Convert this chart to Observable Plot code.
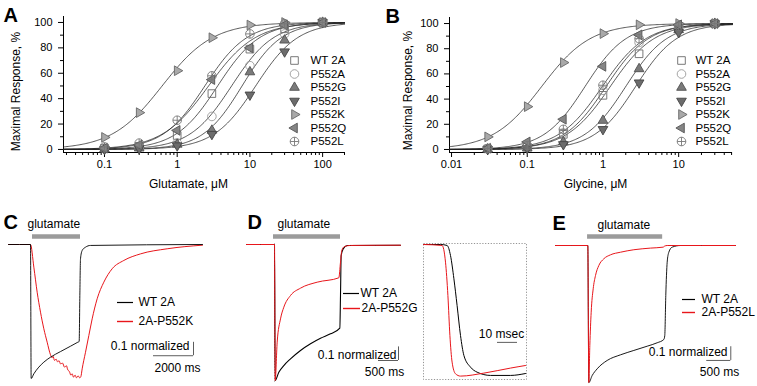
<!DOCTYPE html>
<html><head><meta charset="utf-8">
<script src="https://cdn.jsdelivr.net/npm/d3@7"></script>
<script src="https://cdn.jsdelivr.net/npm/@observablehq/plot@0.6"></script>
<style>
html,body{margin:0;padding:0;background:#fff;}
#fig{position:relative;width:757px;height:386px;overflow:hidden;background:#fff;}
</style></head><body><div id="fig"></div>
<script>
// ---------------- DATA ----------------
const series = ["WT 2A", "P552A", "P552G", "P552I", "P552K", "P552Q", "P552L"];

// Panel A: glutamate concentration-response (% of maximal)
const gluConc = [0.1, 0.3, 1, 3, 10, 30, 100];
const glu_WT   = [1, 2.5, 11, 44, 79, 95, 100];
const glu_A    = [0.5, 1.5, 5, 26, 66, 91, 100];
const glu_G    = [0.3, 1, 4, 15, 61, 86, 100];
const glu_I    = [0.2, 0.8, 3, 12, 43, 77, 100];
const glu_K    = [9.5, 29, 62, 88, 98, 100, 100];
const glu_Q    = [1, 3.5, 15, 55, 80, 98, 100];
const glu_L    = [2, 5, 23, 58, 91, 99, 100];
const gluEC50  = [3.6, 5.6, 7.8, 12, 0.62, 2.7, 2.4];
const gluNH    = [1.5, 1.5, 1.6, 1.5, 1.25, 1.35, 1.5];

// Panel B: glycine concentration-response (% of maximal)
const glyConc = [0.03, 0.1, 0.3, 1, 3, 10, 30];
const gly_WT   = [0.5, 2, 12, 43, 76, 96, 100];
const gly_A    = [0.5, 2.5, 13, 47, 85, 98, 100];
const gly_G    = [0.3, 1, 6, 23, 64, 95, 100];
const gly_I    = [0.2, 1, 4, 16, 53, 93, 100];
const gly_K    = [10, 34, 69, 92, 99, 100, 100];
const gly_Q    = [1, 6, 24, 66, 91, 99, 100];
const gly_L    = [0.8, 3, 16, 51, 88, 98, 100];
const glyEC50  = [1.25, 1.1, 2.0, 2.7, 0.155, 0.58, 0.98];
const glyNH    = [1.5, 1.55, 1.6, 1.6, 1.35, 1.6, 1.5];

const yMajor = [0, 20, 40, 60, 80, 100];
const yMinor = [10, 30, 50, 70, 90];
const gluTicks = [0.1, 1, 10, 100];
const gluMinor = [0.03,0.04,0.05,0.06,0.07,0.08,0.09,0.2,0.3,0.4,0.5,0.6,0.7,0.8,0.9,2,3,4,5,6,7,8,9,20,30,40,50,60,70,80,90,200];
const glyTicks = [0.01, 0.1, 1, 10];
const glyMinor = [0.02,0.03,0.04,0.05,0.06,0.07,0.08,0.09,0.2,0.3,0.4,0.5,0.6,0.7,0.8,0.9,2,3,4,5,6,7,8,9,20,30,40,50];

// Panel C traces: [time ms, normalized current]
const traceC_WT = [[0,0],[1100,0],[1133,-1],[1267,-0.965],[1517,-0.915],[1767,-0.878],[2100,-0.841],[2600,-0.799],[3100,-0.759],[3467,-0.729],[3533,-0.724],[3567,-0.381],[3600,-0.107],[3683,-0.045],[3850,-0.020],[4100,-0.007],[9700,0]];
const traceC_P552K = [[0,0],[1100,0],[1267,-0.169],[1433,-0.356],[1600,-0.505],[1767,-0.629],[1933,-0.729],[2100,-0.823],[2180,-0.845],[2230,-0.835],[2300,-0.865],[2380,-0.855],[2450,-0.875],[2530,-0.868],[2600,-0.891],[2700,-0.885],[2800,-0.915],[2900,-0.905],[2950,-0.93],[3050,-0.95],[3120,-0.975],[3183,-0.965],[3250,-0.99],[3330,-0.975],[3400,-0.995],[3480,-0.98],[3560,-0.995],[3620,-0.985],[3683,-0.928],[3850,-0.804],[4017,-0.679],[4183,-0.555],[4433,-0.405],[4767,-0.281],[5183,-0.181],[5767,-0.119],[6600,-0.070],[7933,-0.032],[9700,-0.005]];
const appC = [[1200, 3600]];

// Panel D traces
const traceD_WT = [[0,0],[700,0],[717,-1],[808,-0.939],[933,-0.890],[1100,-0.841],[1350,-0.779],[1600,-0.730],[1850,-0.689],[2100,-0.657],[2333,-0.615],[2350,-0.375],[2367,-0.081],[2417,-0.032],[2517,-0.007],[3850,-0.005]];
const traceD_P552G = [[0,0],[700,0],[717,-1],[767,-0.718],[850,-0.547],[933,-0.461],[1100,-0.375],[1350,-0.321],[1767,-0.277],[2308,-0.245],[2350,-0.13],[2383,-0.044],[2450,-0.015],[2600,-0.007],[3850,-0.005]];
const appD = [[675, 2350]];
// Panel D inset (onset, ms)
const insetD_WT = [[0,0],[8.5,0],[11.8,-0.007],[13.5,-0.081],[15.2,-0.252],[16.8,-0.449],[18.5,-0.669],[20.2,-0.816],[23.5,-0.902],[26.8,-0.939],[33.5,-0.963],[43.5,-0.963],[51,-0.949]];
const insetD_P552G = [[0,0],[9.3,-0.007],[11,-0.13],[12.2,-0.375],[13.2,-0.669],[14.3,-0.865],[16,-0.951],[18.5,-0.968],[30.2,-0.946],[43.5,-0.909],[51,-0.89]];

// Panel E traces
const traceE_WT = [[0,0],[672,0],[693,-1.0],[763,-0.949],[867,-0.900],[1075,-0.839],[1352,-0.798],[1629,-0.766],[1907,-0.735],[2115,-0.710],[2253,-0.686],[2273,-0.657],[2294,-0.365],[2323,-0.122],[2357,-0.049],[2427,-0.012],[2600,0],[3744,0]];
const traceE_P552L = [[0,0],[672,0],[693,-1.0],[714,-0.730],[742,-0.487],[784,-0.316],[832,-0.219],[901,-0.146],[1005,-0.097],[1144,-0.068],[1352,-0.049],[1629,-0.031],[1976,-0.019],[2240,-0.012],[2267,-0.005],[2323,0],[3744,0]];
const appE = [[667, 2229]];

// ---------------- STYLE / HELPERS ----------------
const FONT = "Arial, 'Liberation Sans', Helvetica, sans-serif";
const RED = "#e8161b";
const fig = document.getElementById("fig");
function put(svg, left, top) {
  svg.style.position = "absolute"; svg.style.left = left + "px"; svg.style.top = top + "px";
  fig.appendChild(svg);
}
const baseStyle = `background: transparent; overflow: visible; font-family: ${FONT}; font-size: 11px; color: black;`;

const R = s => Math.sqrt(s / Math.PI);
const triUp = {draw(c, s) { const r = R(s) * 1.3; c.moveTo(0, -r); c.lineTo(r * 0.866, r * 0.5); c.lineTo(-r * 0.866, r * 0.5); c.closePath(); }};
const triDown = {draw(c, s) { const r = R(s) * 1.3; c.moveTo(0, r); c.lineTo(r * 0.866, -r * 0.5); c.lineTo(-r * 0.866, -r * 0.5); c.closePath(); }};
const triRight = {draw(c, s) { const r = R(s) * 1.3; c.moveTo(r, 0); c.lineTo(-r * 0.5, -r * 0.866); c.lineTo(-r * 0.5, r * 0.866); c.closePath(); }};
const triLeft = {draw(c, s) { const r = R(s) * 1.3; c.moveTo(-r, 0); c.lineTo(r * 0.5, -r * 0.866); c.lineTo(r * 0.5, r * 0.866); c.closePath(); }};
const crossCircle = {draw(c, s) { const r = R(s); c.moveTo(r, 0); c.arc(0, 0, r, 0, 2 * Math.PI); c.moveTo(-r, 0); c.lineTo(r, 0); c.moveTo(0, -r); c.lineTo(0, r); }};
const sty = {
  "WT 2A": {symbol: "square", fill: "none", stroke: "#6a6a6a"},
  "P552A": {symbol: "circle", fill: "none", stroke: "#9a9a9a"},
  "P552G": {symbol: triUp, fill: "#7a7a7a", stroke: "#505050"},
  "P552I": {symbol: triDown, fill: "#6c6c6c", stroke: "#444"},
  "P552K": {symbol: triRight, fill: "#a9a9a9", stroke: "#666"},
  "P552Q": {symbol: triLeft, fill: "#858585", stroke: "#555"},
  "P552L": {symbol: crossCircle, fill: "none", stroke: "#777"}
};
const DOT_R = 4.3;

function dosePlot(o) {
  const pts = [];
  series.forEach((s, i) => o.conc.forEach((c, j) => pts.push({s, c, r: o.resp[i][j]})));
  const lo = Math.log10(o.xdom[0]), hi = Math.log10(o.xdom[1]);
  const grid = d3.range(0, 241).map(k => 10 ** (lo + (hi - lo) * k / 240));
  const fits = [];
  series.forEach((s, i) => grid.forEach(c => fits.push({s, c, r: 100 / (1 + (o.ec50[i] / c) ** o.nh[i])})));
  return Plot.plot({
    width: o.w, height: o.h, marginLeft: o.ml, marginRight: o.mr, marginTop: o.mt, marginBottom: o.mb,
    style: baseStyle,
    x: {type: "log", domain: o.xdom},
    y: {domain: o.ydom},
    marks: [
      Plot.ruleX([o.xdom[0]], {y1: o.ydom[0], y2: o.ydom[1], stroke: "black"}),
      Plot.ruleY([o.ydom[0]], {x1: o.xdom[0], x2: o.xdom[1], stroke: "black"}),
      Plot.axisY({ticks: yMajor, tickSize: 5, tickPadding: 6, label: null, fontSize: 11}),
      Plot.axisY({ticks: yMinor, tickSize: 3, tickFormat: () => "", label: null}),
      Plot.axisX({ticks: o.xMajor, tickSize: 5, tickPadding: 3, tickFormat: d => String(d), label: null, fontSize: 11}),
      Plot.axisX({ticks: o.xMinor, tickSize: 3, tickFormat: () => "", label: null}),
      Plot.line(fits, {x: "c", y: "r", z: "s", stroke: "#222", strokeWidth: 0.75}),
      ...series.map(s => Plot.dot(pts.filter(d => d.s === s), {x: "c", y: "r", r: DOT_R, symbol: sty[s].symbol, fill: sty[s].fill, stroke: sty[s].stroke, strokeWidth: 0.9}))
    ]
  });
}

const tx = d => d[0], ty = d => d[1];
function tracePlot(o) {
  return Plot.plot({
    width: o.w, height: o.h, marginLeft: o.ml, marginRight: o.mr, marginTop: o.mt, marginBottom: o.mb,
    style: baseStyle,
    x: {domain: o.xdom, axis: null},
    y: {domain: o.ydom, axis: null},
    marks: o.marks
  });
}

// ---------------- PANEL A ----------------
put(dosePlot({
  conc: gluConc, resp: [glu_WT, glu_A, glu_G, glu_I, glu_K, glu_Q, glu_L], ec50: gluEC50, nh: gluNH,
  xdom: [0.0273, 200], ydom: [-2.4, 104.7], xMajor: gluTicks, xMinor: gluMinor,
  w: 380, h: 200, ml: 63, mr: 36, mt: 16, mb: 48
}), 0, 0);

// ---------------- PANEL B ----------------
put(dosePlot({
  conc: glyConc, resp: [gly_WT, gly_A, gly_G, gly_I, gly_K, gly_Q, gly_L], ec50: glyEC50, nh: glyNH,
  xdom: [0.0094, 51.4], ydom: [-2.4, 104.8], xMajor: glyTicks, xMinor: glyMinor,
  w: 377, h: 200, ml: 69, mr: 25, mt: 17, mb: 48
}), 380, 0);

// ---------------- PANEL C ----------------
put(tracePlot({
  w: 240, h: 186, ml: 8, mr: 38, mt: 44, mb: 8, xdom: [0, 9700], ydom: [-1, 0],
  marks: [
    Plot.ruleY(appC, {x1: d => d[0], x2: d => d[1], y: 0, dy: -8, stroke: "#9b9b9b", strokeWidth: 4.5}),
    Plot.line(traceC_P552K, {x: tx, y: ty, stroke: RED, strokeWidth: 1, curve: "monotone-x"}),
    Plot.line(traceC_WT, {x: tx, y: ty, stroke: "black", strokeWidth: 0.9, curve: "monotone-x"}),
    Plot.ruleY([-0.83], {x1: 7250, x2: 9250, stroke: "#333", strokeWidth: 0.8}),
    Plot.ruleX([9250], {y1: -0.83, y2: -0.73, stroke: "#333", strokeWidth: 0.8})
  ]
}), 0, 200);

// ---------------- PANEL D ----------------
put(tracePlot({
  w: 183, h: 186, ml: 6, mr: 23, mt: 44, mb: 6, xdom: [0, 3850], ydom: [-1, 0],
  marks: [
    Plot.ruleY(appD, {x1: d => d[0], x2: d => d[1], y: 0, dy: -8, stroke: "#9b9b9b", strokeWidth: 4.5}),
    Plot.ruleX([700], {y1: 0.005, y2: -1.02, stroke: "#888", strokeDasharray: "1.2,1.6", strokeWidth: 0.8}),
    Plot.line(traceD_WT, {x: tx, y: ty, stroke: "black", strokeWidth: 1.1, curve: "monotone-x"}),
    Plot.line(traceD_P552G, {x: tx, y: ty, stroke: RED, strokeWidth: 1, curve: "monotone-x"}),
    Plot.ruleY([-0.853], {x1: 3300, x2: 3800, stroke: "#333", strokeWidth: 0.8}),
    Plot.ruleX([3800], {y1: -0.853, y2: -0.753, stroke: "#333", strokeWidth: 0.8})
  ]
}), 240, 200);

// D inset
put(Plot.plot({
  width: 103, height: 136, margin: 0,
  style: baseStyle,
  x: {domain: [0, 51.5], axis: null},
  y: {domain: [-0.993, 0.0074], axis: null},
  marks: [
    Plot.frame({stroke: "#777", strokeDasharray: "1.2,1.6", strokeWidth: 0.8}),
    Plot.line(insetD_WT, {x: tx, y: ty, stroke: "black", strokeWidth: 1, curve: "monotone-x"}),
    Plot.line(insetD_P552G, {x: tx, y: ty, stroke: RED, strokeWidth: 1, curve: "monotone-x"}),
    Plot.ruleY([-0.72], {x1: 37, x2: 47, stroke: "#333", strokeWidth: 0.8})
  ]
}), 423, 243);

// ---------------- PANEL E ----------------
put(tracePlot({
  w: 217, h: 186, ml: 15, mr: 22, mt: 45, mb: 4, xdom: [0, 3744], ydom: [-1, 0],
  marks: [
    Plot.ruleY(appE, {x1: d => d[0], x2: d => d[1], y: 0, dy: -9, stroke: "#9b9b9b", strokeWidth: 4.5}),
    Plot.line(traceE_WT, {x: tx, y: ty, stroke: "black", strokeWidth: 0.9, curve: "monotone-x"}),
    Plot.line(traceE_P552L, {x: tx, y: ty, stroke: RED, strokeWidth: 1, curve: "monotone-x"}),
    Plot.ruleY([-0.839], {x1: 3146, x2: 3646, stroke: "#333", strokeWidth: 0.8}),
    Plot.ruleX([3646], {y1: -0.839, y2: -0.739, stroke: "#333", strokeWidth: 0.8})
  ]
}), 540, 200);

// ---------------- ANNOTATION OVERLAY (pixel positions) ----------------
const letters = [{t: "A", x: 3, y: 21}, {t: "B", x: 385, y: 22}, {t: "C", x: 3, y: 228}, {t: "D", x: 247, y: 228}, {t: "E", x: 552, y: 229}];
const xTitles = [{t: "Glutamate, \u03bcM", x: 188, y: 187}, {t: "Glycine, \u03bcM", x: 595, y: 187}];
const yTitles = [{t: "Maximal Response, %", x: 15.5, y: 91}, {t: "Maximal Response, %", x: 408, y: 90}];
const legRows = series.map((s, i) => ({s, y: 60 + i * 13.5}));
const legText = [...legRows.map(d => ({t: d.s, x: 310, y: d.y})), ...legRows.map(d => ({t: d.s, x: 695, y: d.y}))];
const glutLabels = [{t: "glutamate", x: 27, y: 227}, {t: "glutamate", x: 277, y: 227}, {t: "glutamate", x: 597, y: 228}];
const traceLeg = [
  {t: "WT 2A", x: 138, y: 302}, {t: "2A-P552K", x: 138, y: 321},
  {t: "WT 2A", x: 360, y: 293}, {t: "2A-P552G", x: 361, y: 308},
  {t: "WT 2A", x: 701, y: 299}, {t: "2A-P552L", x: 701, y: 312}
];
const swatchBlack = [{x1: 117, x2: 133, y: 302}, {x1: 343, x2: 359, y: 293}, {x1: 682, x2: 695, y: 299}];
const swatchRed = [{x1: 117, x2: 133, y: 321}, {x1: 343, x2: 360, y: 308}, {x1: 682, x2: 695, y: 312}];
const normLabels = [{t: "0.1 normalized", x: 189, y: 349}, {t: "0.1 normalized", x: 396, y: 358}, {t: "0.1 normalized", x: 727, y: 355}];
const timeLabels = [{t: "2000 ms", x: 177, y: 371}, {t: "500 ms", x: 384, y: 375}, {t: "500 ms", x: 719, y: 375}, {t: "10 msec", x: 501, y: 337}];

put(Plot.plot({
  width: 757, height: 386, margin: 0,
  style: baseStyle,
  x: {type: "identity", axis: null},
  y: {type: "identity", axis: null},
  marks: [
    Plot.text(letters, {x: "x", y: "y", text: "t", fontSize: 20, fontWeight: "bold", textAnchor: "start", lineAnchor: "bottom"}),
    Plot.text(xTitles, {x: "x", y: "y", text: "t", fontSize: 12, textAnchor: "middle", lineAnchor: "bottom"}),
    Plot.text(yTitles, {x: "x", y: "y", text: "t", fontSize: 12, rotate: -90, textAnchor: "middle", lineAnchor: "middle"}),
    ...series.map((s, i) => Plot.dot([{x: 294, y: legRows[i].y}, {x: 681, y: legRows[i].y}], {x: "x", y: "y", r: DOT_R, symbol: sty[s].symbol, fill: sty[s].fill, stroke: sty[s].stroke, strokeWidth: 0.9})),
    Plot.text(legText, {x: "x", y: "y", text: "t", fontSize: 11.5, textAnchor: "start", lineAnchor: "middle"}),
    Plot.text(glutLabels, {x: "x", y: "y", text: "t", fontSize: 12, textAnchor: "start", lineAnchor: "bottom"}),
    Plot.ruleY(swatchBlack, {x1: "x1", x2: "x2", y: "y", stroke: "black", strokeWidth: 1.2}),
    Plot.ruleY(swatchRed, {x1: "x1", x2: "x2", y: "y", stroke: RED, strokeWidth: 1.4}),
    Plot.text(traceLeg, {x: "x", y: "y", text: "t", fontSize: 12, textAnchor: "start", lineAnchor: "middle"}),
    Plot.text(normLabels, {x: "x", y: "y", text: "t", fontSize: 12, textAnchor: "end", lineAnchor: "bottom"}),
    Plot.text(timeLabels, {x: "x", y: "y", text: "t", fontSize: 12, textAnchor: "middle", lineAnchor: "bottom"})
  ]
}), 0, 0);
</script></body></html>
